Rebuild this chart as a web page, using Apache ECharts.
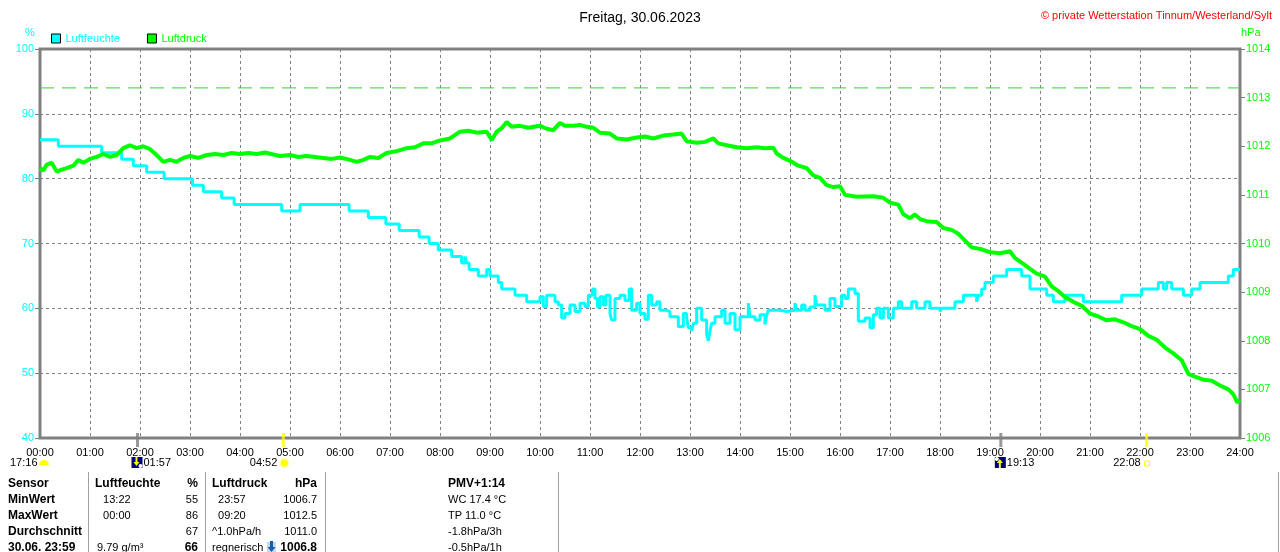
<!DOCTYPE html>
<html>
<head>
<meta charset="utf-8">
<script src="https://cdn.jsdelivr.net/npm/echarts@6/dist/echarts.min.js"></script>
<style>
  html, body { margin: 0; padding: 0; background: #fff; }
  #main { width: 1280px; height: 552px; }
</style>
</head>
<body>
<div id="main"></div>
<script>
// Luftfeuchte (%) - Zeitpunkt, ab dem der Wert gilt
var humT = ['00:00','00:22','01:14','01:38','01:52','02:08','02:29','03:03','03:16','03:38','03:53','04:50','05:12','06:11','06:34','06:55','07:11','07:35','07:47','07:58',
  '08:14','08:26','08:30','08:32','08:35','08:46','08:56','09:00','09:10','09:14','09:30','09:44',
  '10:00','10:04','10:08','10:18','10:22','10:26','10:30','10:36','10:42','10:48','10:54','10:58','11:03','11:06','11:09','11:12','11:16','11:19','11:24','11:26','11:30','11:36','11:42','11:47','11:50','11:56',
  '12:00','12:06','12:10','12:14','12:20','12:24','12:32','12:36','12:46','12:52','12:56','12:58','13:02','13:04','13:08','13:14','13:20','13:22','13:24','13:26','13:30','13:38','13:42','13:48','13:54',
  '14:00','14:10','14:12','14:18','14:24','14:30','14:32','14:34','14:48','14:56','15:06','15:08','15:14','15:18','15:24','15:30','15:32','15:42','15:48','15:54',
  '16:02','16:06','16:10','16:18','16:22','16:30','16:36','16:40','16:44','16:48','16:52','16:58','17:04','17:10','17:14','17:26','17:32','17:42','17:48',
  '18:00','18:02','18:18','18:28','18:44','18:46','18:50','18:54','19:04','19:20','19:38','19:48','20:08','20:16','20:30','20:52','21:38',
  '22:02','22:22','22:28','22:32','22:38','22:52','23:02','23:12','23:46','23:52','24:00'];
var humV = [86,85,84,83,82,81,80,79,78,77,76,75,76,75,74,73,72,71,70,69,
  68,67,68,67,66,65,66,65,64,63,62,61,
  61.8,60.3,62,61,60.5,58.5,59.2,60.5,59.5,60.8,60.3,62,63,61.5,60.2,61.8,60.5,62,59.2,58.2,61.5,62,61.2,63,59.7,60.8,
  59.2,58.3,62,60.5,61,59.7,59.5,58.7,57.2,59.2,58.5,57,56.5,57.7,60,58.2,56,55,56.5,57.7,58.7,59.7,57.7,59.2,56.7,
  58.7,60.8,58.7,58.2,59,57.5,59,59.7,59.5,59.7,60.8,59.7,60.5,59.7,60.2,62,60.5,59.7,61.5,60.3,
  62,61.5,63,62.3,58,58.5,57,59,60,58.5,60,58.5,60,61,60,61,60,61,60,
  59.5,60,61,62,61,62,63,64,65,66,65,63,62,61,62,61,62,
  63,64,63,64,63,62,63,64,65,66,66];

// Luftdruck (hPa)
var presT = ['00:00','00:04','00:08','00:14','00:20','00:26','00:32','00:40','00:46','00:52','01:00','01:08','01:16','01:24','01:32','01:40','01:48','01:56',
  '02:04','02:12','02:18','02:28','02:36','02:44','02:52','03:00','03:10','03:20','03:30','03:40','03:50','04:00','04:10','04:20','04:30','04:40','04:48',
  '05:00','05:10','05:20','05:30','05:40','05:50','06:00','06:10','06:20','06:28','06:36','06:46','06:56','07:08','07:20','07:30','07:40','07:50',
  '08:00','08:12','08:24','08:34','08:44','08:56','09:02','09:08','09:14','09:20','09:26','09:36','09:46','10:00','10:08','10:16','10:24','10:30','10:40','10:48','10:56',
  '11:04','11:12','11:24','11:32','11:44','11:56','12:06','12:16','12:28','12:40','12:50','12:56','13:08','13:18','13:28','13:34','13:44','13:56',
  '14:08','14:20','14:30','14:40','14:44','14:52','15:00','15:10','15:20','15:28','15:36','15:44','15:52','16:00','16:06','16:20','16:40','16:52',
  '17:00','17:10','17:16','17:24','17:30','17:36','17:46','17:56','18:04','18:14','18:22','18:30','18:38','18:50','19:00','19:12','19:24','19:30','19:40','19:48','19:56',
  '20:06','20:14','20:22','20:30','20:40','20:50','21:00','21:10','21:20','21:30','21:40','21:50','22:00','22:10','22:20','22:30','22:40','22:50','22:58',
  '23:06','23:16','23:26','23:36','23:46','23:52','23:57','23:59'];
var presV = [1011.55,1011.5,1011.62,1011.66,1011.48,1011.52,1011.55,1011.6,1011.72,1011.66,1011.74,1011.78,1011.84,1011.78,1011.82,1011.96,1012.02,1011.96,
  1012.0,1011.94,1011.85,1011.68,1011.72,1011.68,1011.76,1011.8,1011.76,1011.82,1011.84,1011.82,1011.86,1011.84,1011.86,1011.84,1011.87,1011.83,1011.8,
  1011.82,1011.78,1011.8,1011.78,1011.76,1011.74,1011.77,1011.73,1011.68,1011.72,1011.78,1011.76,1011.86,1011.9,1011.96,1011.98,1012.06,1012.06,
  1012.12,1012.16,1012.3,1012.32,1012.28,1012.3,1012.13,1012.3,1012.37,1012.5,1012.4,1012.42,1012.38,1012.42,1012.36,1012.33,1012.48,1012.42,1012.42,1012.44,1012.4,
  1012.38,1012.28,1012.26,1012.16,1012.14,1012.18,1012.2,1012.16,1012.22,1012.24,1012.26,1012.1,1012.07,1012.09,1012.16,1012.06,1012.02,1011.98,
  1011.96,1011.98,1011.96,1011.97,1011.85,1011.76,1011.7,1011.6,1011.55,1011.4,1011.35,1011.2,1011.16,1011.18,1011.0,1010.96,1010.97,1010.94,
  1010.84,1010.8,1010.6,1010.52,1010.6,1010.5,1010.45,1010.44,1010.32,1010.28,1010.2,1010.06,1009.92,1009.88,1009.82,1009.8,1009.84,1009.7,1009.58,1009.48,1009.38,
  1009.32,1009.12,1009.02,1008.9,1008.8,1008.72,1008.56,1008.5,1008.42,1008.44,1008.38,1008.3,1008.24,1008.1,1008.02,1007.86,1007.74,1007.6,1007.32,
  1007.26,1007.2,1007.18,1007.08,1007.0,1006.9,1006.72,1006.8];

// Normaldruck als gestrichelte Linie
var normalPressure = 1013.2;
var normalT = ['00:00', '24:00'];

// Sonne / Mond Ereignisse
var eventT = ['01:57','04:52','19:13','22:08'];
var eventKind = ['moonDown','sunUp','moonUp','sunDown'];

// Tabelle unten
var tableRows = [
  ['Sensor',       'Luftfeuchte', '%',  'Luftdruck',  'hPa',    'PMV+1:14'],
  ['MinWert',      '  13:22',     '55', '  23:57',    '1006.7', 'WC 17.4 °C'],
  ['MaxWert',      '  00:00',     '86', '  09:20',    '1012.5', 'TP 11.0 °C'],
  ['Durchschnitt', '',            '67', '^1.0hPa/h',  '1011.0', '-1.8hPa/3h'],
  ['30.06. 23:59', '9.79 g/m³',   '66', 'regnerisch', '1006.8', '-0.5hPa/1h']
];

function toH(s) { var p = s.split(':'); return +p[0] + (+p[1]) / 60; }
function pairs(ts, vs) { return ts.map(function (t, i) { return [toH(t), vs[i]]; }); }

var FONT = 'Liberation Sans';
var CYAN = '#00ffff', GREEN = '#00ff00', GREY = '#808080';

var chart = echarts.init(document.getElementById('main'));
chart.setOption({
  animation: false,
  textStyle: { fontFamily: FONT },
  title: [
    { text: 'Freitag, 30.06.2023', left: 'center', top: 6,
      textStyle: { fontSize: 14, fontWeight: 'normal', color: '#000', fontFamily: FONT } },
    { text: '© private Wetterstation Tinnum/Westerland/Sylt', right: 3, top: 5,
      textStyle: { fontSize: 11, fontWeight: 'normal', color: '#ff0000', fontFamily: FONT } },
    { text: '%', left: 20, top: 22, textStyle: { fontSize: 11, fontWeight: 'normal', color: CYAN } },
    { text: 'hPa', left: 1236, top: 22, textStyle: { fontSize: 11, fontWeight: 'normal', color: GREEN } }
  ],
  legend: {
    left: 51, top: 33, padding: 0, itemWidth: 9, itemHeight: 9, itemGap: 27, icon: 'rect',
    itemStyle: { borderColor: '#000', borderWidth: 1 },
    textStyle: { fontSize: 11, fontFamily: FONT },
    data: [
      { name: 'Luftfeuchte', textStyle: { color: CYAN } },
      { name: 'Luftdruck', textStyle: { color: GREEN } }
    ]
  },
  grid: { left: 40, right: 40, top: 49, bottom: 114, show: true, borderColor: GREY, borderWidth: 3, backgroundColor: '#fff' },
  xAxis: {
    type: 'value', min: 0, max: 24, interval: 1,
    axisLine: { show: false },
    axisTick: { show: false },
    axisLabel: { color: '#000', fontSize: 11, margin: 9,
      formatter: function (v) { return (v < 10 ? '0' : '') + v + ':00'; } },
    splitLine: { show: true, lineStyle: { color: GREY, type: [3, 3], width: 1 } }
  },
  yAxis: [
    { type: 'value', min: 40, max: 100, interval: 10, position: 'left',
      axisLine: { show: false },
      axisTick: { show: true, length: 5, lineStyle: { color: GREY } },
      axisLabel: { color: CYAN, fontSize: 11, margin: 6 },
      splitLine: { show: true, lineStyle: { color: GREY, type: [3, 3], width: 1 } } },
    { type: 'value', min: 1006, max: 1014, interval: 1, position: 'right',
      axisLine: { show: false },
      axisTick: { show: true, length: 5, lineStyle: { color: GREY } },
      axisLabel: { color: GREEN, fontSize: 11, margin: 6, formatter: function (v) { return String(v); } },
      splitLine: { show: false } }
  ],
  series: [
    { name: 'Normaldruck', type: 'line', yAxisIndex: 1, symbol: 'none', silent: true, z: 2,
      lineStyle: { color: '#22dd22', type: [14, 8], width: 1 },
      data: normalT.map(function (t) { return [toH(t), normalPressure]; }) },
    { name: 'Luftfeuchte', type: 'line', yAxisIndex: 0, step: 'end', symbol: 'none',
      color: CYAN, lineStyle: { color: CYAN, width: 3 }, z: 3,
      data: pairs(humT, humV) },
    { name: 'Luftdruck', type: 'line', yAxisIndex: 1, symbol: 'none',
      color: GREEN, lineStyle: { color: GREEN, width: 4 }, z: 4,
      data: pairs(presT, presV) },
    { name: 'Ereignis', type: 'scatter', yAxisIndex: 0, symbol: 'rect', symbolSize: [3, 14],
      symbolOffset: [0, 2], z: 10, silent: true, clip: false,
      data: eventT.map(function (t, i) {
        return { value: [toH(t), 40],
          itemStyle: { color: eventKind[i].indexOf('moon') === 0 ? GREY : '#ffff00' } };
      }) }
  ]
});

// Beschriftung unter der Achse und Tabelle
var g = [];
function txt(x, y, s, opt) {
  opt = opt || {};
  g.push({ type: 'text', x: x, y: y, silent: true, style: {
    text: s, fill: opt.fill || '#000', font: (opt.bold ? 'bold 12px ' : (opt.size || 11) + 'px ') + FONT,
    textAlign: opt.align || 'left', textVerticalAlign: 'middle' } });
}

// 17:16 halbe Sonne
txt(10, 463, '17:16');
g.push({ type: 'sector', shape: { cx: 44, cy: 465, r: 5, startAngle: Math.PI, endAngle: 2 * Math.PI }, style: { fill: '#ffff00' } });

eventT.forEach(function (t, i) {
  var px = chart.convertToPixel({ xAxisIndex: 0 }, toH(t));
  var k = eventKind[i];
  if (k.indexOf('moon') === 0) {
    g.push({ type: 'rect', shape: { x: px - 6, y: 457, width: 11, height: 11 }, style: { fill: '#000080' } });
    var up = k === 'moonUp';
    g.push({ type: 'circle', shape: { cx: up ? px - 4 : px + 3, cy: up ? 459 : 466, r: 2 }, style: { fill: '#fff' } });
    g.push({ type: 'polygon', shape: { points: up
      ? [[px - 1, 459], [px - 4, 463], [px - 2, 463], [px - 2, 468], [px, 468], [px, 463], [px + 2, 463]]
      : [[px - 1, 466], [px - 4, 462], [px - 2, 462], [px - 2, 457], [px, 457], [px, 462], [px + 2, 462]] },
      style: { fill: '#ffff00' } });
    txt(px + 6, 463, t);
  } else {
    if (k === 'sunUp') {
      g.push({ type: 'circle', shape: { cx: px + 1, cy: 463, r: 5 }, style: { fill: '#ffffa0' } });
      g.push({ type: 'circle', shape: { cx: px + 1, cy: 463, r: 3.5 }, style: { fill: '#ffff00' } });
    } else {
      g.push({ type: 'rect', shape: { x: px - 2, y: 461, width: 5, height: 5 }, style: { fill: 'none', stroke: '#ffff00', lineWidth: 1 } });
    }
    txt(px - 6, 463, t, { align: 'right' });
  }
});

// Trennlinien der Tabelle
[88, 205, 325, 558, 1278].forEach(function (x) {
  g.push({ type: 'line', shape: { x1: x + 0.5, y1: 472, x2: x + 0.5, y2: 552 }, style: { stroke: '#a0a0a0', lineWidth: 1 } });
});

tableRows.forEach(function (r, i) {
  var y = 484 + i * 16;
  var head = i === 0, last = i === tableRows.length - 1;
  txt(8, y, r[0], { bold: true });
  txt(head ? 95 : 97, y, r[1], { bold: head });
  txt(198, y, r[2], { bold: head || last, align: 'right' });
  txt(212, y, r[3], { bold: head });
  txt(317, y, r[4], { bold: head || last, align: 'right' });
  txt(448, y, r[5], { bold: head });
});
// Tendenzpfeil vor 1006.8
g.push({ type: 'rect', shape: { x: 267, y: 542, width: 9, height: 10 }, style: { fill: '#c8d8e8' } });
g.push({ type: 'polygon', shape: { points: [[271.5, 552], [267.5, 547], [270, 547], [270, 541], [273, 541], [273, 547], [275.5, 547]] }, style: { fill: '#1060b0' } });

chart.setOption({ graphic: g });
</script>
</body>
</html>
